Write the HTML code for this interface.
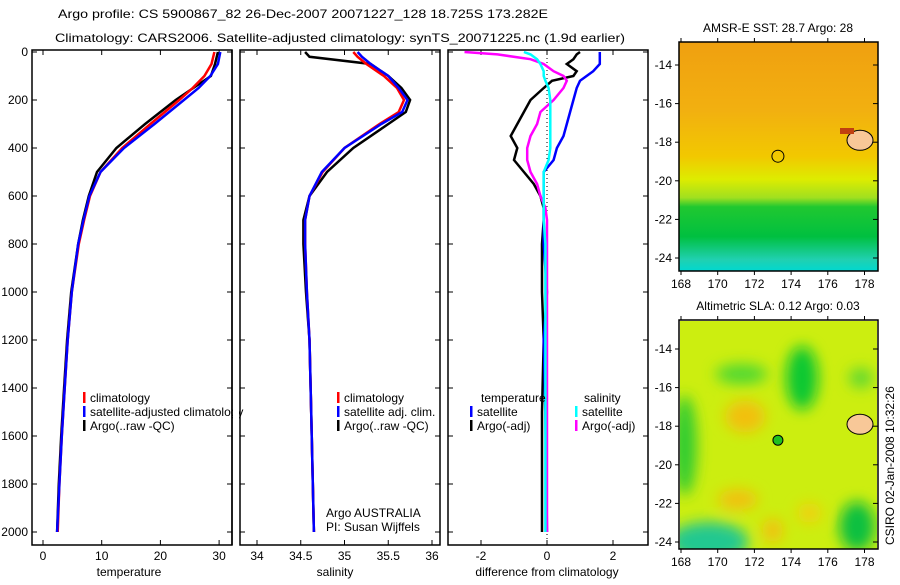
<!DOCTYPE html>
<html><head><meta charset="utf-8">
<style>
body{margin:0;background:#fff;width:900px;height:580px;overflow:hidden;font-family:"Liberation Sans",sans-serif}
svg text{font-family:"Liberation Sans",sans-serif;font-size:12px;fill:#000}
</style></head>
<body>
<svg id="c" width="900" height="580">
<defs>
<linearGradient id="sst" x1="0" y1="0" x2="0" y2="1">
<stop offset="0" stop-color="#f0a010"/><stop offset="0.3" stop-color="#f2b010"/>
<stop offset="0.5" stop-color="#f2c800"/><stop offset="0.6" stop-color="#ddec00"/>
<stop offset="0.68" stop-color="#a0e020"/><stop offset="0.72" stop-color="#20c830"/>
<stop offset="0.85" stop-color="#00c040"/><stop offset="0.95" stop-color="#20d0b0"/>
<stop offset="1" stop-color="#00d8d0"/></linearGradient>
<filter id="blur" x="-50%" y="-50%" width="200%" height="200%"><feGaussianBlur stdDeviation="7"/></filter>
<clipPath id="slaclip"><rect x="680" y="321" width="197" height="228"/></clipPath>
</defs>
<g id="g"></g>
</svg>
<script>
// ---- data ----
const depthT=[0,50,100,150,200,300,400,500,600,700,800,1000,1200,1400,1600,1800,2000];
const tempClim=[29.2,28.7,27.5,25.5,23.2,18.3,13.5,9.8,8.0,7.0,6.1,4.9,4.2,3.7,3.2,2.8,2.5];
const tempSat=[30.2,29.8,28.5,26.5,24.0,19.0,13.8,9.8,7.9,6.9,6.0,4.9,4.2,3.7,3.2,2.8,2.4];
const tempArgo=[29.8,29.3,28.6,25.6,22.6,17.4,12.5,9.2,7.8,6.8,6.0,4.8,4.1,3.6,3.1,2.7,2.4];
const depthS=[0,20,50,100,150,200,250,300,400,500,600,700,800,1000,1200,1500,2000];
const salClim=[35.1,35.15,35.25,35.45,35.6,35.68,35.62,35.4,35.0,34.75,34.6,34.55,34.55,34.57,34.6,34.62,34.65];
const salSat=[35.15,35.2,35.3,35.5,35.62,35.72,35.66,35.42,35.0,34.74,34.6,34.55,34.55,34.57,34.6,34.62,34.65];
const salArgo=[34.55,34.6,35.3,35.5,35.65,35.75,35.7,35.5,35.1,34.8,34.6,34.53,34.53,34.56,34.6,34.62,34.65];
const depthD=[0,10,30,50,80,100,120,150,200,250,300,350,400,450,500,550,600,650,700,800,1000,1200,1500,2000];
const dTsat=[1.6,1.6,1.6,1.6,1.4,1.2,1.0,0.9,0.8,0.7,0.6,0.5,0.3,0.2,-0.1,-0.1,-0.1,-0.1,-0.1,-0.1,0,-0.1,-0.05,0];
const dTargo=[1.0,0.9,0.8,0.6,0.9,0.8,0.15,-0.1,-0.5,-0.7,-0.9,-1.1,-0.9,-1.0,-0.7,-0.4,-0.2,-0.1,-0.1,-0.15,-0.15,-0.1,-0.15,-0.15];
const dSsat=[-0.7,-0.5,-0.3,-0.2,-0.1,-0.1,-0.05,0.05,0.1,0.1,0.1,0.1,0.1,0.05,-0.1,-0.1,-0.1,-0.1,-0.1,-0.05,-0.05,-0.05,-0.05,-0.05];
const dSargo=[-2.5,-1.5,-0.5,-0.1,0.2,0.5,0.6,0.5,0.2,-0.2,-0.3,-0.5,-0.6,-0.6,-0.5,-0.3,-0.2,-0.05,0,0,0,0,0,0];
const depthTicks=[0,200,400,600,800,1000,1200,1400,1600,1800,2000];
const tempTicks=[0,10,20,30];
const salTicks=[34,34.5,35,35.5,36];
const diffTicks=[-2,0,2];
const lonTicks=[168,170,172,174,176,178];
const latTicks=[-14,-16,-18,-20,-22,-24];

const NS='http://www.w3.org/2000/svg';
const G=document.getElementById('g');
function el(t,a,txt,p){const e=document.createElementNS(NS,t);for(const k in a)e.setAttribute(k,a[k]);if(txt!=null)e.textContent=txt;(p||G).appendChild(e);return e;}
const yD=d=>52+d*0.24;
const xT=v=>43+v*5.87;
const xS=v=>257+(v-34)*87.5;
const xDf=v=>547+v*33;

function panel(x0,name){
  const r=el('rect',{x:x0,y:50,width:200,height:495,fill:'none',stroke:'#000','stroke-width':1.5});
  
  depthTicks.forEach(d=>{const y=yD(d);
    el('line',{x1:x0,y1:y,x2:x0+5,y2:y,stroke:'#000'});
    el('line',{x1:x0+200,y1:y,x2:x0+195,y2:y,stroke:'#000'});
  });
}
function line(xs,ds,fx,col,name){
  const pts=xs.map((v,i)=>fx(v).toFixed(1)+','+yD(ds[i]).toFixed(1)).join(' ');
  const p=el('polyline',{points:pts,fill:'none',stroke:col,'stroke-width':2.5});
  
}
function xticks(ticks,fx,x0){ticks.forEach(v=>{const x=fx(v);
  el('line',{x1:x,y1:545,x2:x,y2:540,stroke:'#000'});el('line',{x1:x,y1:50,x2:x,y2:55,stroke:'#000'});
  const t=el('text',{x:x,y:560,'text-anchor':'middle'},String(v));
  });}

// titles
let t=el('text',{x:58,y:18,'font-size':14,textLength:490,lengthAdjust:'spacingAndGlyphs'},'Argo profile: CS 5900867_82 26-Dec-2007 20071227_128 18.725S 173.282E');

t=el('text',{x:55,y:42,'font-size':14,textLength:570,lengthAdjust:'spacingAndGlyphs'},'Climatology: CARS2006. Satellite-adjusted climatology: synTS_20071225.nc (1.9d earlier)');


// panel 1
panel(32,'temperature-panel');
depthTicks.forEach(d=>{const tx=el('text',{x:28,y:yD(d)+4,'text-anchor':'end'},String(d));
  });
xticks(tempTicks,xT);
line(tempArgo,depthT,xT,'#000','temp-argo-line');
line(tempClim,depthT,xT,'#f00','temp-climatology-line');
line(tempSat,depthT,xT,'#00f','temp-satellite-line');
t=el('text',{x:129,y:576,'text-anchor':'middle'},'temperature');

// panel 2
panel(240,'salinity-panel');
xticks(salTicks,xS);
line(salArgo,depthS,xS,'#000','sal-argo-line');
line(salClim,depthS,xS,'#f00','sal-climatology-line');
line(salSat,depthS,xS,'#00f','sal-satellite-line');
t=el('text',{x:335,y:576,'text-anchor':'middle'},'salinity');
t=el('text',{x:326,y:517},'Argo AUSTRALIA');
t=el('text',{x:326,y:531},'PI: Susan Wijffels');

// panel 3
panel(448,'difference-panel');
el('line',{x1:547,y1:50,x2:547,y2:545,stroke:'#000','stroke-dasharray':'1,3'});
xticks(diffTicks,xDf);
line(dTargo,depthD,xDf,'#000','diff-temp-argo-line');
line(dTsat,depthD,xDf,'#00f','diff-temp-satellite-line');
line(dSargo,depthD,xDf,'#f0f','diff-sal-argo-line');
line(dSsat,depthD,xDf,'#0ff','diff-sal-satellite-line');
t=el('text',{x:547,y:576,'text-anchor':'middle'},'difference from climatology');

// legends
function leg(x,y,col,txt){el('rect',{x:x,y:y-10,width:2.5,height:11,fill:col});
  const tt=el('text',{x:x+7,y:y},txt);}
leg(83,402,'#f00','climatology');leg(83,416,'#00f','satellite-adjusted climatology');leg(83,430,'#000','Argo(..raw -QC)');
leg(337,402,'#f00','climatology');leg(337,416,'#00f','satellite adj. clim.');leg(337,430,'#000','Argo(..raw -QC)');
t=el('text',{x:481,y:402},'temperature');
t=el('text',{x:584,y:402},'salinity');
leg(470,416,'#00f','satellite');leg(470,430,'#000','Argo(-adj)');
leg(575,416,'#0ff','satellite');leg(575,430,'#f0f','Argo(-adj)');
el('rect',{x:233,y:400,width:6,height:30,fill:'#fff'});
el('line',{x1:232,y1:50,x2:232,y2:545,stroke:'#000','stroke-width':1.5});

// maps
const xL=v=>681+(v-168)*18.35;
function map(y0,h,lat14,fill,title,name){
  const r=el('rect',{x:679,y:y0,width:199,height:h,fill:fill,stroke:'#000','stroke-width':1.5});
  
  const yL=v=>lat14+(-14-v)*19.3;
  latTicks.forEach(v=>{const y=yL(v);el('line',{x1:878,y1:y,x2:873,y2:y,stroke:'#000'});
    el('line',{x1:679,y1:y,x2:675,y2:y,stroke:'#000'});
    const tx=el('text',{x:672,y:y+4,'text-anchor':'end'},String(v));});
  lonTicks.forEach(v=>{const x=xL(v);el('line',{x1:x,y1:y0+h,x2:x,y2:y0+h+4,stroke:'#000'});el('line',{x1:x,y1:y0,x2:x,y2:y0-4,stroke:'#000'});
    const tx=el('text',{x:x,y:y0+h+17,'text-anchor':'middle'},String(v));});
  const tt=el('text',{x:778,y:y0-10,'text-anchor':'middle'},title);
  return yL;
}
const y1=map(42,229,65,'url(#sst)','AMSR-E SST: 28.7 Argo: 28','sst-map');
el('ellipse',{cx:860,cy:y1(-17.9),rx:13,ry:10,fill:'#f8c898',stroke:'#000'});
el('rect',{x:840,y:128,width:14,height:6,fill:'#c04010'});
let m=el('circle',{cx:xL(173.282),cy:y1(-18.725),r:6,fill:'none',stroke:'#000'});


// SLA background with blurred blobs
el('rect',{x:680,y:321,width:197,height:228,fill:'#ccee10'});
const bg=el('g',{'clip-path':'url(#slaclip)'});
const bl=el('g',{filter:'url(#blur)'},null,bg);
function y2f(v){return 349+(-14-v)*19.3;}
[[xL(174.6),y2f(-15.5),16,32,'#10c830'],[xL(171.3),y2f(-15.3),26,10,'#50d830'],[xL(169.5),y2f(-24),40,20,'#20c890'],
 [xL(177.6),y2f(-23.2),18,25,'#10c040'],[xL(168.2),y2f(-19),12,50,'#30cc30'],[xL(177.8),y2f(-15.5),12,10,'#60d830'],
 [xL(171.5),y2f(-17.5),20,16,'#f2c010'],[xL(171.1),y2f(-21.8),20,10,'#f2c010'],[xL(173),y2f(-23.4),10,12,'#f2c010'],[xL(175),y2f(-22.5),12,10,'#f0d010']]
 .forEach(b=>el('ellipse',{cx:b[0],cy:b[1],rx:b[2],ry:b[3],fill:b[4]},null,bl));
const y2=map(320,229,349,'none','Altimetric SLA: 0.12 Argo: 0.03','sla-map');
el('ellipse',{cx:860,cy:y2(-17.9),rx:13,ry:10,fill:'#f8c898',stroke:'#000'});
m=el('circle',{cx:xL(173.282),cy:y2(-18.725),r:5,fill:'#20c020',stroke:'#000'});


t=el('text',{x:0,y:0,transform:'translate(894,545) rotate(-90)'},'CSIRO 02-Jan-2008 10:32:26');

</script>
</body></html>
